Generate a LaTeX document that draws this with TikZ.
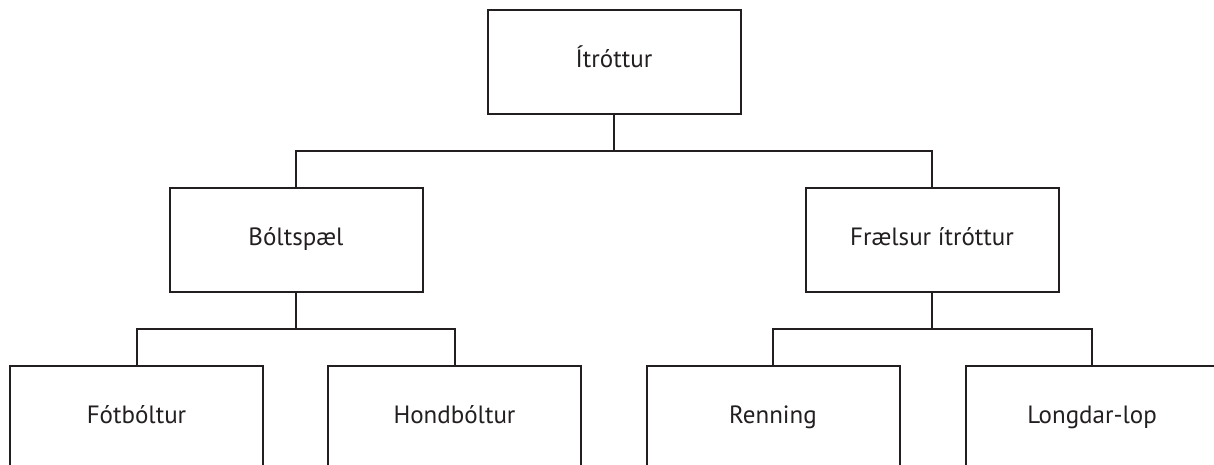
\documentclass[tikz,border=0pt]{standalone}
\usepackage{fontspec}
\setmainfont{PT Sans}
\definecolor{ink}{HTML}{231F20}
\begin{document}
\begin{tikzpicture}[x=1pt,y=-1pt,
  box/.style={draw=ink,line width=2pt,minimum width=253pt,minimum height=104pt,inner sep=0pt,
    text=ink,font=\fontsize{25}{28}\selectfont,text height=16pt,text depth=6pt},
  link/.style={draw=ink,line width=2pt}]
\useasboundingbox (0,0) rectangle (1214,465);
\clip (0,0) rectangle (1214,465);
\node[box] (top) at (614,62.5) {Ítróttur};
\node[box] (bolt) at (296,240) {Bóltspæl};
\node[box] (frael) at (932,240) {Frælsur ítróttur};
\node[box] (fot) at (136.5,418) {Fótbóltur};
\node[box] (hond) at (454.5,418) {Hondbóltur};
\node[box] (renn) at (773,418) {Renning};
\node[box] (long) at (1092,418) {Longdar-lop};
\coordinate (j1) at (614,151);
\coordinate (j2) at (296,328.5);
\coordinate (j3) at (932,328.5);
\draw[link] (top.south) -- (j1);
\draw[link] (bolt.north) |- (j1) -| (frael.north);
\draw[link] (bolt.south) -- (j2);
\draw[link] (fot.north) |- (j2) -| (hond.north);
\draw[link] (frael.south) -- (j3);
\draw[link] (renn.north) |- (j3) -| (long.north);
\end{tikzpicture}
\end{document}
